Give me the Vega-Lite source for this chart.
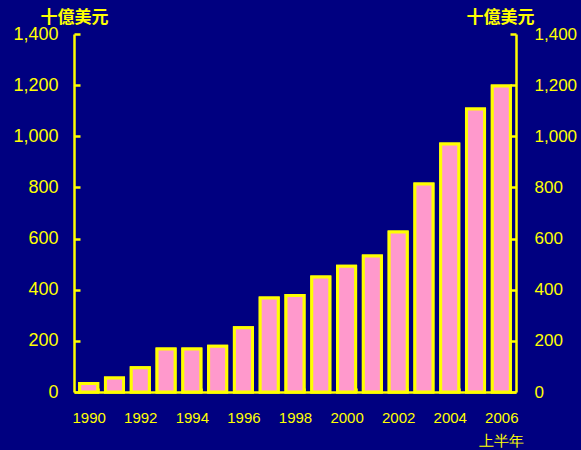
{
  "$schema": "https://vega.github.io/schema/vega-lite/v6.json",
  "width": 442,
  "height": 358,
  "autosize": {"type": "none"},
  "padding": {"left": 74, "top": 34, "right": 65, "bottom": 58},
  "background": "#000080",
  "config": {
    "view": {"stroke": null},
    "axis": {
      "domainColor": "#FFFF00",
      "domainWidth": 2.5,
      "tickColor": "#FFFF00",
      "tickWidth": 2.5,
      "labelColor": "#FFFF00",
      "labelFont": "Liberation Sans",
      "titleColor": "#FFFF00",
      "titleFont": "Noto Sans CJK TC",
      "grid": false
    }
  },
  "data": {
    "values": [
      {"year": "1990", "value": 33},
      {"year": "1991", "value": 55},
      {"year": "1992", "value": 95},
      {"year": "1993", "value": 168},
      {"year": "1994", "value": 168},
      {"year": "1995", "value": 179},
      {"year": "1996", "value": 251},
      {"year": "1997", "value": 368},
      {"year": "1998", "value": 377},
      {"year": "1999", "value": 450},
      {"year": "2000", "value": 492},
      {"year": "2001", "value": 532},
      {"year": "2002", "value": 626},
      {"year": "2003", "value": 813},
      {"year": "2004", "value": 970},
      {"year": "2005", "value": 1107},
      {"year": "2006", "value": 1197}
    ]
  },
  "encoding": {
    "x": {
      "field": "year",
      "type": "ordinal",
      "scale": {"paddingInner": 0.3, "paddingOuter": 0.22},
      "axis": {
        "title": null,
        "labelAngle": 0,
        "values": ["1990", "1992", "1994", "1996", "1998", "2000", "2002", "2004", "2006"],
        "labelExpr": "datum.value == '2006' ? ['2006', '上半年'] : datum.label",
        "labelFontSize": 15,
        "labelPadding": 22,
        "labelLineHeight": 23,
        "tickBand": "extent",
        "tickSize": -4,
        "ticks": true
      }
    }
  },
  "layer": [
    {
      "mark": {"type": "bar", "fill": "#FF99CC", "stroke": "#FFFF00", "strokeWidth": 3},
      "encoding": {
        "y": {
          "field": "value",
          "type": "quantitative",
          "scale": {"domain": [0, 1400], "nice": false},
          "axis": {
            "orient": "left",
            "values": [0, 200, 400, 600, 800, 1000, 1200, 1400],
            "format": ",d",
            "labelFontSize": 18,
            "labelPadding": 22,
            "tickSize": -6,
            "title": "十億美元",
            "titleAngle": 0,
            "titleFontSize": 17,
            "titleFontWeight": "bold",
            "titleAlign": "center",
            "titleBaseline": "alphabetic",
            "titleX": 0,
            "titleY": -12
          }
        }
      }
    },
    {
      "mark": {"type": "bar", "fill": "#FF99CC", "stroke": "#FFFF00", "strokeWidth": 3},
      "encoding": {
        "y": {
          "field": "value",
          "type": "quantitative",
          "axis": {
            "orient": "right",
            "values": [0, 200, 400, 600, 800, 1000, 1200, 1400],
            "format": ",d",
            "labelFontSize": 17,
            "labelPadding": 24,
            "tickSize": -6,
            "title": "十億美元",
            "titleAngle": 0,
            "titleFontSize": 17,
            "titleFontWeight": "bold",
            "titleAlign": "center",
            "titleBaseline": "alphabetic",
            "titleX": -16,
            "titleY": -12
          }
        }
      }
    }
  ],
  "resolve": {"axis": {"y": "independent"}}
}
